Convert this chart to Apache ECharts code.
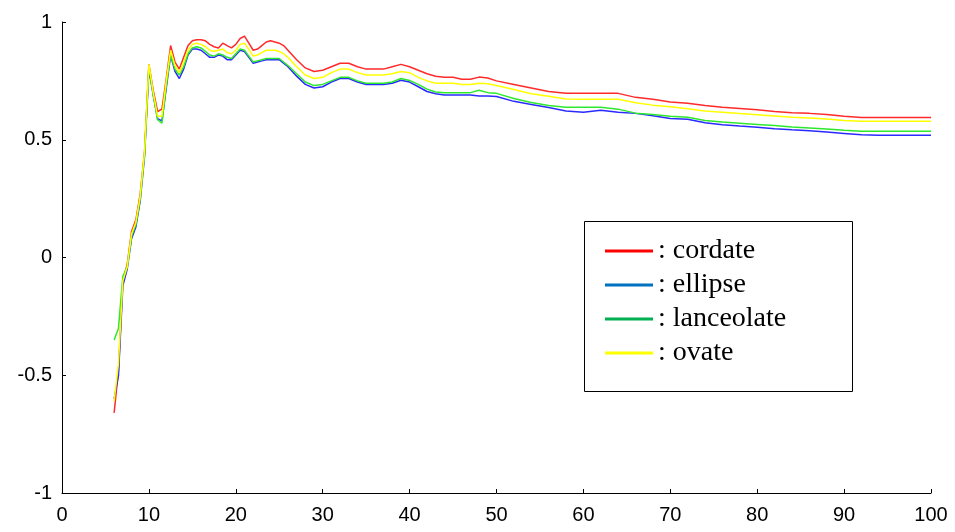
<!DOCTYPE html>
<html>
<head>
<meta charset="utf-8">
<script src="https://cdn.jsdelivr.net/npm/echarts@6/dist/echarts.min.js"></script>
<style>html,body{margin:0;padding:0;background:#fff}#c{width:955px;height:532px}</style>
</head>
<body>
<div id="c"></div>
<script>
const xs = [6,6.5,7,7.5,8,8.5,9,9.5,10,10.5,11,11.5,12,12.5,13,13.5,14,14.5,15,15.5,16,16.5,17,17.5,18,18.5,19,19.5,20,20.5,21,21.5,22,22.5,23,23.5,24,24.5,25,25.5,26,
  27,28,29,30,31,32,33,34,35,36,37,38,39,40,41,42,43,44,45,46,47,48,49,50,
  52,54,56,58,60,62,64,66,68,70,72,74,76,78,80,82,84,86,88,90,92,94,96,98,100];

const cordate = [-0.66,-0.48,-0.10,-0.03,0.11,0.16,0.27,0.45,0.82,0.71,0.62,0.63,0.76,0.90,0.83,0.80,0.85,0.90,0.92,0.925,0.925,0.92,0.905,0.895,0.89,0.91,0.90,0.89,0.905,0.93,0.94,0.91,0.88,0.885,0.90,0.915,0.92,0.915,0.91,0.90,0.88,
  0.84,0.805,0.79,0.795,0.81,0.825,0.825,0.81,0.80,0.80,0.80,0.81,0.82,0.81,0.795,0.78,0.77,0.765,0.765,0.757,0.757,0.766,0.762,0.75,
  0.735,0.72,0.705,0.697,0.697,0.697,0.697,0.68,0.672,0.66,0.655,0.645,0.638,0.633,0.627,0.62,0.615,0.612,0.607,0.60,0.595,0.595,0.595,0.595,0.595];

const ellipse = [-0.60,-0.50,-0.12,-0.05,0.08,0.13,0.24,0.43,0.80,0.69,0.59,0.58,0.72,0.86,0.79,0.76,0.80,0.86,0.885,0.885,0.88,0.865,0.85,0.85,0.86,0.855,0.84,0.84,0.86,0.88,0.875,0.85,0.825,0.83,0.835,0.84,0.84,0.84,0.84,0.825,0.81,
  0.77,0.735,0.72,0.725,0.745,0.76,0.76,0.745,0.735,0.735,0.735,0.74,0.753,0.745,0.725,0.705,0.695,0.69,0.69,0.69,0.69,0.686,0.686,0.684,
  0.663,0.65,0.637,0.622,0.617,0.625,0.617,0.612,0.602,0.59,0.587,0.572,0.564,0.558,0.553,0.547,0.542,0.538,0.533,0.527,0.521,0.519,0.519,0.519,0.519];

const lanceolate = [-0.35,-0.30,-0.08,-0.04,0.09,0.14,0.25,0.44,0.81,0.69,0.585,0.57,0.73,0.86,0.80,0.775,0.81,0.865,0.89,0.895,0.89,0.875,0.86,0.855,0.865,0.86,0.85,0.845,0.865,0.885,0.88,0.855,0.83,0.835,0.84,0.845,0.845,0.845,0.845,0.83,0.815,
  0.78,0.745,0.73,0.735,0.75,0.765,0.765,0.75,0.74,0.74,0.74,0.745,0.76,0.752,0.735,0.715,0.703,0.70,0.70,0.70,0.70,0.71,0.70,0.697,
  0.675,0.658,0.645,0.638,0.638,0.638,0.63,0.613,0.607,0.60,0.596,0.582,0.575,0.57,0.565,0.56,0.554,0.55,0.546,0.54,0.536,0.536,0.536,0.536,0.536];

const ovate = [-0.61,-0.45,-0.10,-0.04,0.10,0.15,0.26,0.45,0.82,0.70,0.60,0.60,0.75,0.88,0.815,0.785,0.83,0.88,0.905,0.91,0.905,0.895,0.88,0.875,0.88,0.885,0.87,0.865,0.88,0.905,0.91,0.885,0.855,0.86,0.87,0.88,0.88,0.88,0.875,0.865,0.85,
  0.81,0.775,0.76,0.765,0.785,0.80,0.80,0.785,0.775,0.775,0.775,0.78,0.79,0.785,0.765,0.75,0.74,0.74,0.74,0.735,0.735,0.74,0.738,0.73,
  0.713,0.695,0.685,0.673,0.672,0.672,0.672,0.657,0.647,0.64,0.632,0.622,0.617,0.611,0.606,0.601,0.596,0.592,0.588,0.582,0.579,0.579,0.579,0.579,0.579];

const xTicks = [0,10,20,30,40,50,60,70,80,90,100];
const yTicks = [-1,-0.5,0,0.5,1];

const names = ['cordate','ellipse','lanceolate','ovate'];
const values = [cordate, ellipse, lanceolate, ovate];
const lineColors = ['#ff2a2a','#2a2aff','#2ee82e','#ffff00'];
const legendColors = ['#ff0000','#0070c0','#00b050','#ffff00'];

const chart = echarts.init(document.getElementById('c'), null, {renderer:'canvas'});
chart.setOption({
  animation:false,
  backgroundColor:'#ffffff',
  grid:{left:62,right:24,top:22,bottom:39,containLabel:false},
  xAxis:{type:'value',min:xTicks[0],max:xTicks[xTicks.length-1],interval:10,
    axisLine:{onZero:false,lineStyle:{color:'#000',width:1}},
    axisTick:{inside:true,length:4,lineStyle:{color:'#000'}},
    splitLine:{show:false},
    axisLabel:{color:'#000',fontFamily:'Liberation Sans',fontSize:20,margin:12}},
  yAxis:{type:'value',min:yTicks[0],max:yTicks[yTicks.length-1],interval:0.5,
    axisLine:{show:true,onZero:false,lineStyle:{color:'#000',width:1}},
    axisTick:{show:true,inside:true,length:4,lineStyle:{color:'#000'}},
    splitLine:{show:false},
    axisLabel:{color:'#000',fontFamily:'Liberation Sans',fontSize:20,margin:10}},
  graphic:[{type:'rect',left:584,top:221,shape:{width:268,height:170},
    style:{fill:'#fff',stroke:'#000',lineWidth:1},z:50}],
  legend:{orient:'vertical',left:600,top:232,itemWidth:48,itemHeight:3,itemGap:6,z:60,
    formatter:': {name}',
    textStyle:{fontFamily:'Liberation Serif',fontSize:28,color:'#000',lineHeight:28},
    data:names.map((n,i)=>({name:n,icon:'rect',itemStyle:{color:legendColors[i]}}))},
  series:names.map((n,i)=>({
    name:n,type:'line',symbol:'none',
    data:xs.map((x,j)=>[x,values[i][j]]),
    lineStyle:{color:lineColors[i],width:1.5},
    itemStyle:{color:lineColors[i]}
  }))
});
</script>
</body>
</html>
